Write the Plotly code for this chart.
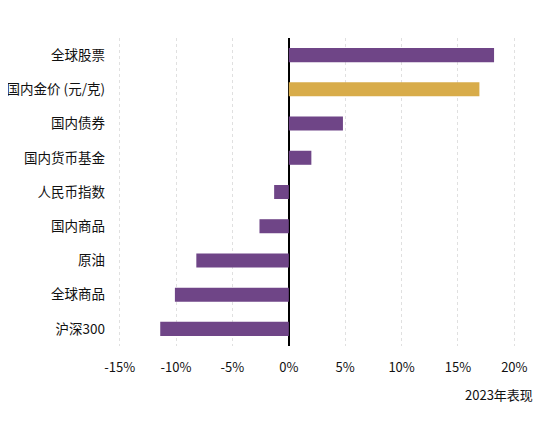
import plotly.graph_objects as go

# 2023 performance by asset class, top to bottom as drawn
categories = ['全球股票', '国内金价 (元/克)', '国内债券', '国内货币基金',
              '人民币指数', '国内商品', '原油', '全球商品', '沪深300']
returns_pct = [18.2, 16.9, 4.8, 2.0, -1.3, -2.6, -8.2, -10.1, -11.4]
highlight = '国内金价 (元/克)'
tick_vals = [-15, -10, -5, 0, 5, 10, 15, 20]
tick_text = ['-15%', '-10%', '-5%', '0%', '5%', '10%', '15%', '20%']

PURPLE = '#6f4587'
GOLD = '#d8ac4a'
FONT = 'Noto Sans CJK SC, Noto Sans, sans-serif'

colors = [GOLD if c == highlight else PURPLE for c in categories]

fig = go.Figure(go.Bar(
    x=returns_pct,
    y=categories,
    orientation='h',
    marker=dict(color=colors, line=dict(width=0)),
    hovertemplate='%{y}: %{x:.1f}%<extra></extra>',
))

# page body adds an 8px offset, so margins are trimmed to compensate
fig.update_layout(
    width=553, height=439,
    margin=dict(l=106, r=41, t=30, b=101),
    paper_bgcolor='white', plot_bgcolor='white',
    font=dict(family=FONT, size=13, color='#111'),
    bargap=0.59,
    showlegend=False,
)

fig.update_xaxes(
    range=[-15.5, 20.5],
    tickmode='array', tickvals=tick_vals, ticktext=tick_text,
    showgrid=True, gridcolor='#e0e0e0', griddash='3px,3px', gridwidth=1,
    zeroline=True, zerolinecolor='black', zerolinewidth=1.5,
    showline=False, ticks='',
    ticklabelstandoff=12,
    tickfont=dict(size=13),
    automargin=False,
)

fig.update_yaxes(
    autorange='reversed',
    showgrid=False, showline=False, ticks='',
    ticklabelstandoff=8,
    tickfont=dict(size=13.5),
    automargin=False,
)

fig.add_annotation(
    text='2023年表现', xref='paper', yref='paper',
    x=1.037, y=-0.159, xanchor='right', yanchor='middle',
    showarrow=False, font=dict(size=13, color='#111'),
)

fig.write_html("out.html")
